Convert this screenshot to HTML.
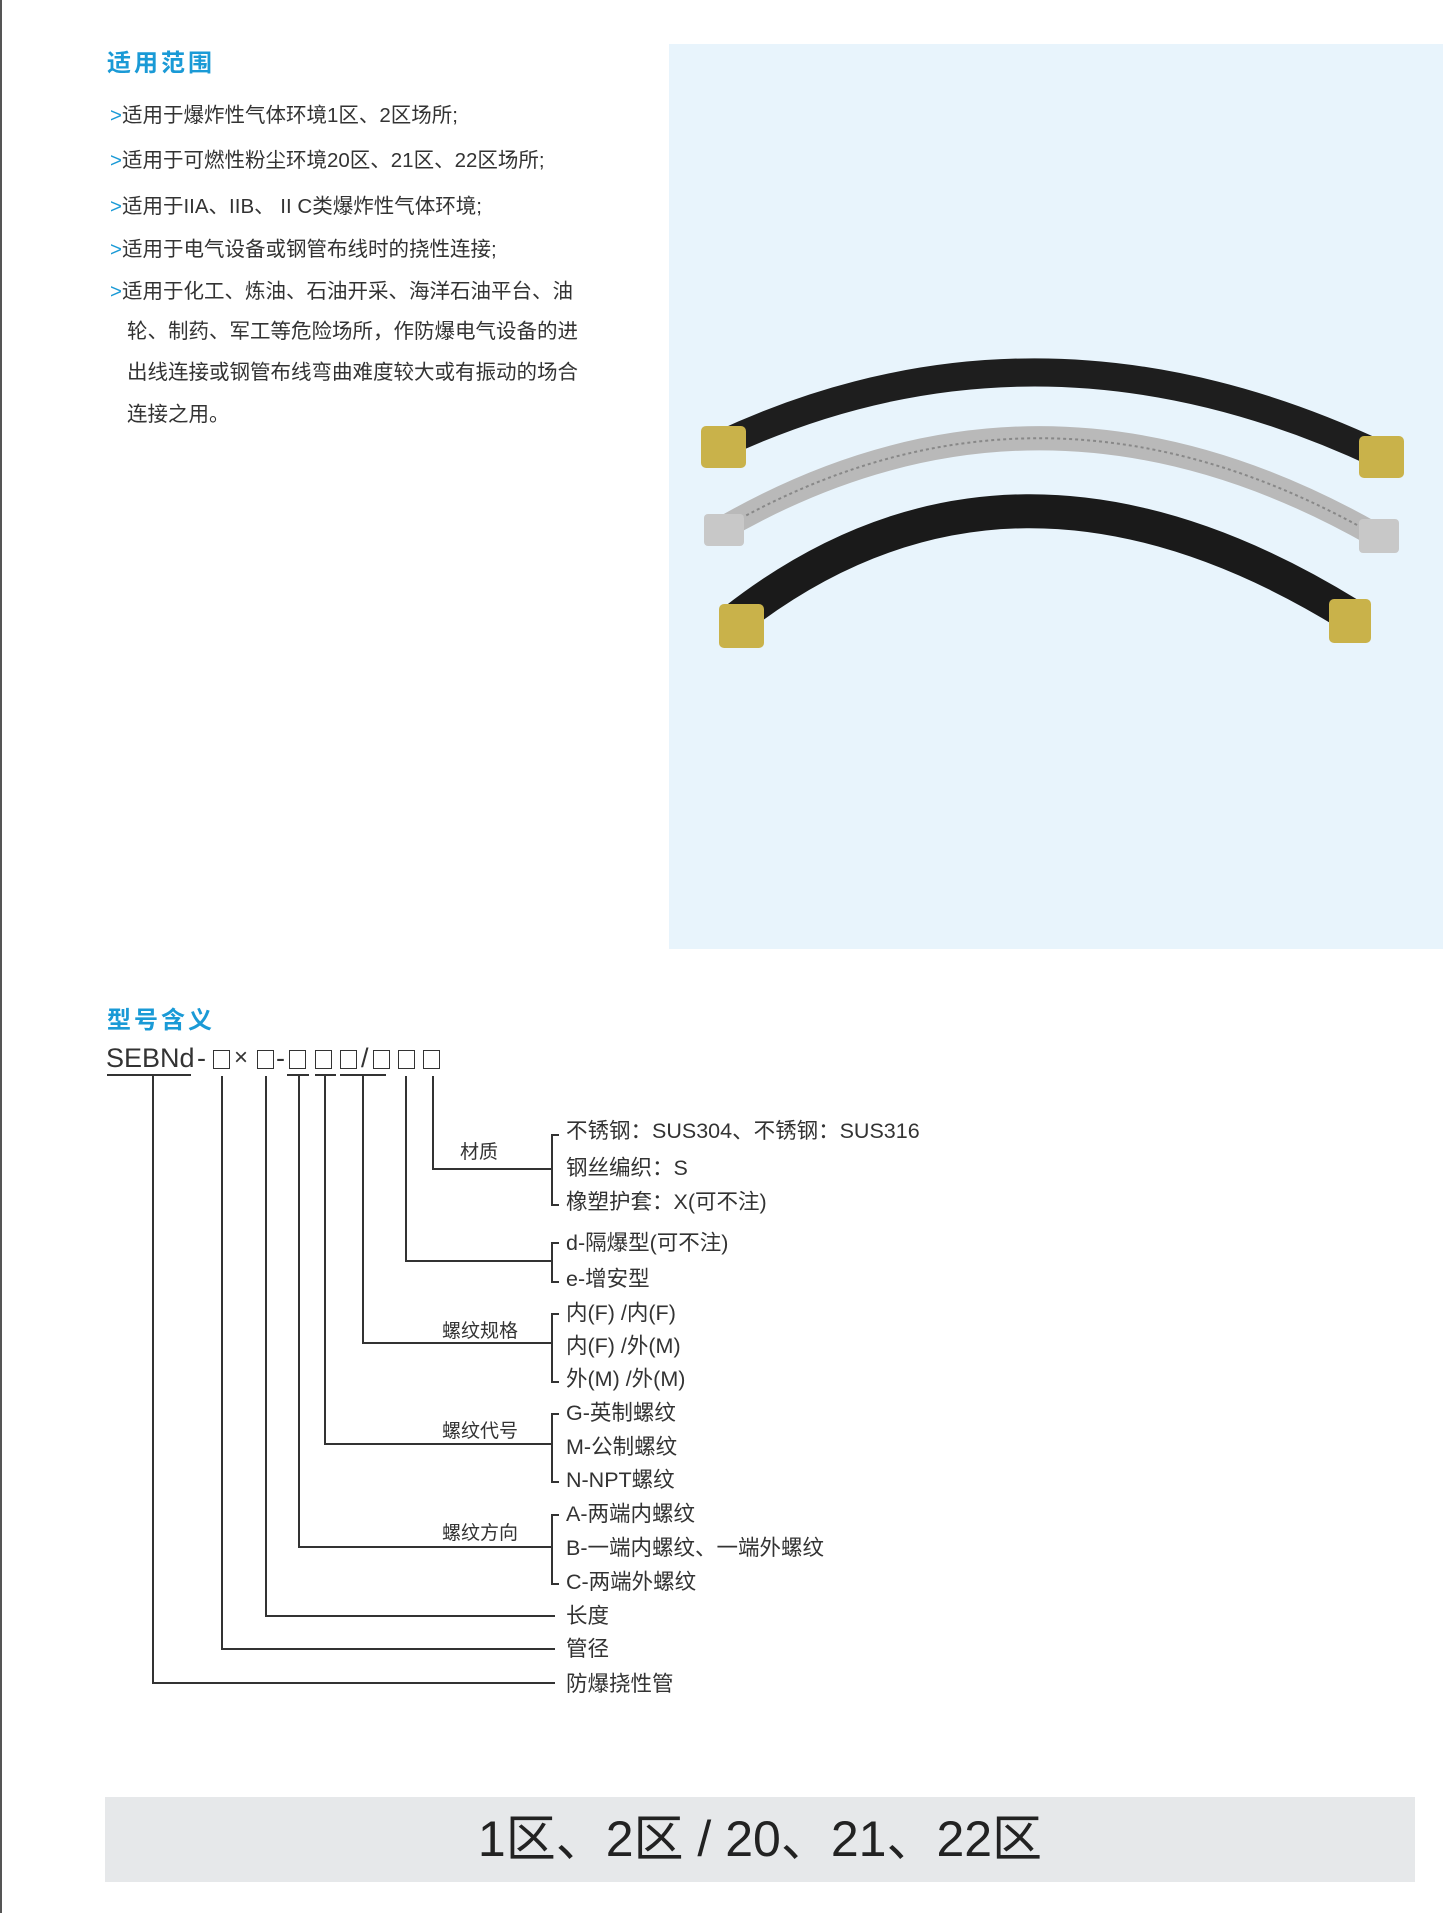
<!DOCTYPE html>
<html><head><meta charset="utf-8"><style>
body{margin:0;width:1443px;height:1913px;position:relative;background:#fff;font-family:"Liberation Sans","Noto Sans CJK SC",sans-serif;color:#333;overflow:hidden}
.a{position:absolute;white-space:nowrap}
.h{color:#1a9ad6;font-size:24px;font-weight:bold;letter-spacing:3px}
.b{font-size:20.5px;left:110px;line-height:24px}
.b span{color:#1a9ad6}
.l{position:absolute;background:#333}
.t{font-size:21.5px;left:566px;line-height:24px}
.g{font-size:19px;line-height:22px}
.s{position:absolute;top:1043px;font-size:27px;line-height:30px}
.bx{position:absolute;top:1050px;width:15px;height:17px;border:1.6px solid #333}
</style></head><body>
<div class="l" style="left:0;top:0;width:2px;height:1913px;background:#555"></div>
<div class="a h" style="left:107px;top:43px">适用范围</div>
<div class="a b" style="top:104px"><span>&gt;</span>适用于爆炸性气体环境1区、2区场所;</div>
<div class="a b" style="top:149px"><span>&gt;</span>适用于可燃性粉尘环境20区、21区、22区场所;</div>
<div class="a b" style="top:195px"><span>&gt;</span>适用于IIA、IIB、 II C类爆炸性气体环境;</div>
<div class="a b" style="top:238px"><span>&gt;</span>适用于电气设备或钢管布线时的挠性连接;</div>
<div class="a b" style="top:280px"><span>&gt;</span>适用于化工、炼油、石油开采、海洋石油平台、油</div>
<div class="a b" style="top:320px;left:127px">轮、制药、军工等危险场所，作防爆电气设备的进</div>
<div class="a b" style="top:361px;left:127px">出线连接或钢管布线弯曲难度较大或有振动的场合</div>
<div class="a b" style="top:403px;left:127px">连接之用。</div>
<div class="a" style="left:669px;top:44px;width:774px;height:905px;background:#e8f4fc"></div>
<svg class="a" style="left:669px;top:44px" width="774" height="905">
<path d="M51 401 Q371 251 711 411" stroke="#1e1e1e" stroke-width="28" fill="none"/>
<path d="M51 486 Q371 300 706 491" stroke="#b9b9b9" stroke-width="24" fill="none"/>
<path d="M51 486 Q371 300 706 491" stroke="#888" stroke-width="2" stroke-dasharray="3 3" fill="none"/>
<path d="M66 576 Q341 361 681 571" stroke="#1a1a1a" stroke-width="34" fill="none"/>
<rect x="32" y="382" width="45" height="42" rx="5" fill="#c9b24a"/>
<rect x="690" y="392" width="45" height="42" rx="5" fill="#c9b24a"/>
<rect x="35" y="470" width="40" height="32" rx="4" fill="#c8c8c8"/>
<rect x="690" y="475" width="40" height="34" rx="4" fill="#c8c8c8"/>
<rect x="50" y="560" width="45" height="44" rx="5" fill="#c9b24a"/>
<rect x="660" y="555" width="42" height="44" rx="5" fill="#c9b24a"/>
</svg>
<div class="a h" style="left:107px;top:1000px">型号含义</div>
<div class="s" style="left:106px">SEBNd</div>
<div class="s" style="left:197px">-</div>
<div class="bx" style="left:213px"></div>
<div class="s" style="left:234px;font-size:24px">×</div>
<div class="bx" style="left:257px"></div>
<div class="s" style="left:276px">-</div>
<div class="bx" style="left:289px"></div>
<div class="bx" style="left:315px"></div>
<div class="bx" style="left:340px"></div>
<div class="s" style="left:361px">/</div>
<div class="bx" style="left:373px"></div>
<div class="bx" style="left:398px"></div>
<div class="bx" style="left:423px"></div>
<div class="l" style="left:107px;top:1074px;width:84px;height:2px"></div>
<div class="l" style="left:287px;top:1074px;width:22px;height:2px"></div>
<div class="l" style="left:315px;top:1074px;width:21px;height:2px"></div>
<div class="l" style="left:340px;top:1074px;width:46px;height:2px"></div>
<div class="l" style="left:152px;top:1076px;width:2px;height:608px"></div>
<div class="l" style="left:221px;top:1076px;width:2px;height:574px"></div>
<div class="l" style="left:265px;top:1076px;width:2px;height:541px"></div>
<div class="l" style="left:298px;top:1076px;width:2px;height:472px"></div>
<div class="l" style="left:324px;top:1076px;width:2px;height:369px"></div>
<div class="l" style="left:362px;top:1076px;width:2px;height:268px"></div>
<div class="l" style="left:405px;top:1076px;width:2px;height:186px"></div>
<div class="l" style="left:432px;top:1076px;width:2px;height:94px"></div>
<div class="l" style="left:432px;top:1168px;width:120px;height:2px"></div>
<div class="l" style="left:405px;top:1260px;width:147px;height:2px"></div>
<div class="l" style="left:362px;top:1342px;width:190px;height:2px"></div>
<div class="l" style="left:324px;top:1443px;width:228px;height:2px"></div>
<div class="l" style="left:298px;top:1546px;width:254px;height:2px"></div>
<div class="l" style="left:265px;top:1615px;width:290px;height:2px"></div>
<div class="l" style="left:221px;top:1648px;width:334px;height:2px"></div>
<div class="l" style="left:152px;top:1682px;width:403px;height:2px"></div>
<div class="a" style="left:551px;top:1134px;width:6px;height:68px;border:2px solid #333;border-right:none"></div>
<div class="a" style="left:551px;top:1242px;width:6px;height:37px;border:2px solid #333;border-right:none"></div>
<div class="a" style="left:551px;top:1313px;width:6px;height:66px;border:2px solid #333;border-right:none"></div>
<div class="a" style="left:551px;top:1413px;width:6px;height:66px;border:2px solid #333;border-right:none"></div>
<div class="a" style="left:551px;top:1514px;width:6px;height:67px;border:2px solid #333;border-right:none"></div>
<div class="a g" style="left:460px;top:1142px">材质</div>
<div class="a g" style="left:442px;top:1321px">螺纹规格</div>
<div class="a g" style="left:442px;top:1421px">螺纹代号</div>
<div class="a g" style="left:442px;top:1523px">螺纹方向</div>
<div class="a t" style="top:1119px">不锈钢：SUS304、不锈钢：SUS316</div>
<div class="a t" style="top:1156px">钢丝编织：S</div>
<div class="a t" style="top:1190px">橡塑护套：X(可不注)</div>
<div class="a t" style="top:1231px">d-隔爆型(可不注)</div>
<div class="a t" style="top:1267px">e-增安型</div>
<div class="a t" style="top:1301px">内(F) /内(F)</div>
<div class="a t" style="top:1334px">内(F) /外(M)</div>
<div class="a t" style="top:1367px">外(M) /外(M)</div>
<div class="a t" style="top:1401px">G-英制螺纹</div>
<div class="a t" style="top:1435px">M-公制螺纹</div>
<div class="a t" style="top:1468px">N-NPT螺纹</div>
<div class="a t" style="top:1502px">A-两端内螺纹</div>
<div class="a t" style="top:1536px">B-一端内螺纹、一端外螺纹</div>
<div class="a t" style="top:1570px">C-两端外螺纹</div>
<div class="a t" style="top:1604px">长度</div>
<div class="a t" style="top:1637px">管径</div>
<div class="a t" style="top:1672px">防爆挠性管</div>
<div class="a" style="left:105px;top:1797px;width:1310px;height:85px;background:#e6e8ea;text-align:center;font-size:50px;line-height:85px;color:#222">1区、2区 / 20、21、22区</div>
</body></html>
